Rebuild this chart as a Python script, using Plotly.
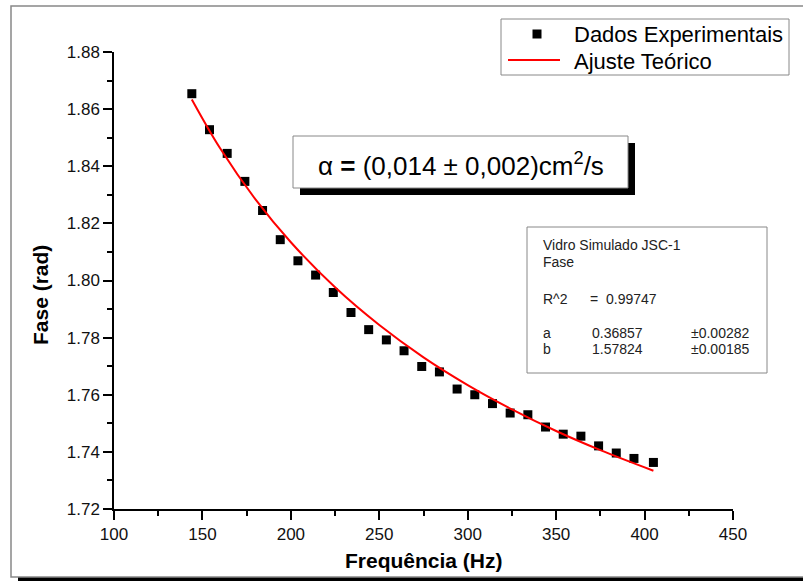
import plotly.graph_objects as go

# Experimental phase vs. modulation frequency
freq_hz = [144, 154, 164, 174, 184, 194, 204, 214, 224, 234, 244, 254, 264, 274,
           284, 294, 304, 314, 324, 334, 344, 354, 364, 374, 384, 394, 405]
fase_rad = [1.8654, 1.8528, 1.8445, 1.8347, 1.8245, 1.8143, 1.8069, 1.8019,
            1.7958, 1.7888, 1.7828, 1.7792, 1.7754, 1.7699, 1.7680, 1.7620,
            1.7600, 1.7569, 1.7536, 1.7530, 1.7487, 1.7462, 1.7455, 1.7421,
            1.7396, 1.7377, 1.7363]

# Theoretical fit curve
fit_freq = [144, 160, 180, 200, 225, 250, 275, 300, 325, 350, 375, 405]
fit_fase = [1.8634, 1.8463, 1.8284, 1.8134, 1.7976, 1.7844, 1.7731, 1.7634,
            1.7549, 1.7473, 1.7406, 1.7334]

x_ticks = [100, 150, 200, 250, 300, 350, 400, 450]
y_ticks = [1.72, 1.74, 1.76, 1.78, 1.80, 1.82, 1.84, 1.86, 1.88]

W, H = 803, 581
ML, MR, MT, MB = 114, 70, 52, 72
PW, PH = W - ML - MR, H - MT - MB

FONT = "Liberation Sans, Arial, sans-serif"


def px(x):
    return (x - ML) / PW


def py(y):
    return (H - MB - y) / PH


def label(text, x, y, size, xanchor="center", color="black", angle=0):
    return dict(text=text, x=px(x), y=py(y), xref="paper", yref="paper",
                xanchor=xanchor, yanchor="middle", showarrow=False, textangle=angle,
                font=dict(family=FONT, size=size, color=color))


fig = go.Figure()
fig.add_trace(go.Scatter(
    x=freq_hz, y=fase_rad, mode="markers", name="Dados Experimentais",
    marker=dict(symbol="square", size=9, color="black"), showlegend=False,
))
fig.add_trace(go.Scatter(
    x=fit_freq, y=fit_fase, mode="lines", name="Ajuste Teórico",
    line=dict(color="#ff0000", width=2, shape="spline"), showlegend=False,
))

axis_common = dict(
    showgrid=False, zeroline=False, showline=True, linecolor="black",
    linewidth=1.5, ticks="outside", ticklen=9, tickwidth=1.5, tickcolor="black",
    tickfont=dict(family=FONT, size=17, color="#111"),
)
fig.update_xaxes(
    range=[100, 450], tickvals=x_ticks, ticktext=[str(v) for v in x_ticks],
    minor=dict(dtick=25, ticklen=5, tickwidth=1.5, tickcolor="black", ticks="outside"),
    **axis_common,
)
fig.update_yaxes(
    range=[1.72, 1.88], tickvals=y_ticks, ticktext=[f"{v:.2f}" for v in y_ticks],
    minor=dict(dtick=0.01, ticklen=5, tickwidth=1.5, tickcolor="black", ticks="outside"),
    **axis_common,
)


def rect(x0, x1, y0, y1, fill, line_color=None, width=1, layer="above"):
    return dict(type="rect", xref="paper", yref="paper", x0=px(x0), x1=px(x1),
                y0=py(y0), y1=py(y1), fillcolor=fill, layer=layer,
                line=dict(color=line_color or fill, width=width if line_color else 0))


shapes = [
    # page frame and its shadow
    rect(18, 815, 577, 590, "black", layer="below"),
    rect(11, 810, 6, 577, "white", "#888", 1.5, layer="below"),
    # legend box with its symbols
    rect(501, 789, 19, 75, "white", "#888", 1),
    rect(532.5, 541.5, 29.5, 38.5, "black"),
    dict(type="line", xref="paper", yref="paper", x0=px(508), x1=px(560),
         y0=py(60), y1=py(60), line=dict(color="#ff0000", width=2)),
    # alpha box with drop shadow
    rect(300, 635, 143, 195, "black"),
    rect(293, 628, 136, 188, "white", "#888", 1),
    # fit statistics box
    rect(527, 767, 227, 373, "white", "#888", 1),
]

annotations = [
    label("Dados Experimentais", 572, 35, 22, xanchor="left"),
    label("Ajuste Teórico", 572, 61, 22, xanchor="left"),
    label("α <b>=</b> (0,014 ± 0,002)cm<sup>2</sup>/s", 461, 164, 26),
    label("<b>Frequência (Hz)</b>", 424, 560, 21),
    label("<b>Fase (rad)</b>", 40, 295, 21, angle=-90),
]

stat_rows = [
    (541, 245, "Vidro Simulado JSC-1"),
    (541, 262, "Fase"),
    (541, 299, "R^2"),
    (588, 299, "=  0.99747"),
    (541, 333, "a"),
    (590, 333, "0.36857"),
    (689, 333, "±0.00282"),
    (541, 349, "b"),
    (590, 349, "1.57824"),
    (689, 349, "±0.00185"),
]
for sx, sy, txt in stat_rows:
    annotations.append(label(txt, sx, sy, 14, xanchor="left", color="#222"))

fig.update_layout(
    width=W, height=H,
    margin=dict(l=ML, r=MR, t=MT, b=MB),
    paper_bgcolor="white", plot_bgcolor="white",
    shapes=shapes, annotations=annotations,
    showlegend=False,
    font=dict(family=FONT),
)

fig.write_html("out.html")
